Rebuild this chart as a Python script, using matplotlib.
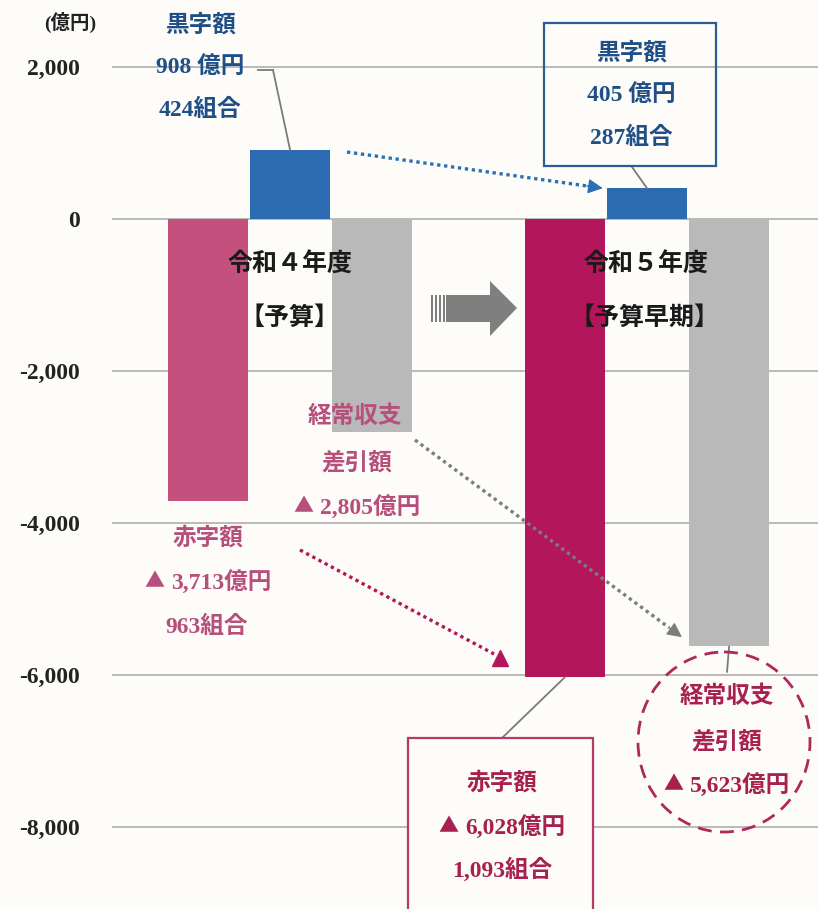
import numpy as np
import matplotlib.pyplot as plt
from matplotlib.patches import Rectangle, Ellipse, Polygon
from matplotlib.transforms import Affine2D

plt.rcParams['font.family'] = ['Liberation Serif', 'Noto Sans CJK JP']

# data (億円)
years = ['令和４年度', '令和５年度']
periods = ['【予算】', '【予算早期】']
deficit = [-3713, -6028]        # 赤字額
surplus = [908, 405]            # 黒字額
balance = [-2805, -5623]        # 経常収支差引額
deficit_unions = [963, 1093]
surplus_unions = [424, 287]
yticks = [2000, 0, -2000, -4000, -6000, -8000]

bg = '#fdfcf8'
pink = '#c4517d'
crimson = '#b3165a'
blue = '#2b6cb0'
grey = '#b9b9b9'
blue_txt = '#1f4f86'
pink_txt = '#b74f7c'
crim_txt = '#a8204f'

W, H = 818, 909
fig = plt.figure(figsize=(W / 100, H / 100), dpi=100, facecolor=bg)
ax = fig.add_axes([112 / W, 0, 1 - 112 / W, 1])
ax.set_facecolor(bg)
# pixel coords measured from the top-left corner
px = Affine2D().scale(1 / W, -1 / H).translate(0, 1) + fig.transFigure

x = np.arange(len(years))
w = 0.224
off = 0.23
ax.bar(x - off, deficit, w, color=[pink, crimson])
ax.bar(x, surplus, w, color=blue)
ax.bar(x + off, balance, w, color=grey)

ax.set_xlim(-0.499, 1.479)
ax.set_ylim(-9079, 2882)
ax.set_yticks(yticks)
ax.set_yticklabels([f'{v:,}' for v in yticks], fontsize=17,
                   fontweight='bold', color='#222222')
ax.tick_params(length=0, pad=23)
ax.set_xticks([])
ax.yaxis.grid(True, color='#b5b5b5', lw=1.3)
ax.set_axisbelow(True)
for s in ax.spines.values():
    s.set_visible(False)

renderer = fig.canvas.get_renderer()


def label(xp, yp, s, color, size=17):
    if not s.startswith('▲'):
        fig.text(xp, yp, s, transform=px, ha='center', va='center',
                 fontsize=size, fontweight='bold', color=color, zorder=5)
        return
    # bigger CJK triangle, then the rest of the text
    tri = fig.text(0, yp, '▲', transform=px, ha='left', va='center',
                   fontsize=size * 0.85, family='Noto Sans CJK JP',
                   color=color, zorder=5)
    rest = fig.text(0, yp, s[1:].strip(), transform=px, ha='left', va='center',
                    fontsize=size, fontweight='bold', color=color, zorder=5)
    gap = 7
    wt = tri.get_window_extent(renderer).width
    wr = rest.get_window_extent(renderer).width
    left = xp - (wt + gap + wr) / 2
    tri.set_x(left)
    rest.set_x(left + wt + gap)


def leader(xy, pt):
    ax.annotate('', xy=xy, xycoords='data', xytext=pt, textcoords=px,
                arrowprops=dict(arrowstyle='-', color='#7a7a7a', lw=1.3,
                                shrinkA=0, shrinkB=0), annotation_clip=False)


def dotted_arrow(xy, pt, color):
    end = px.inverted().transform(ax.transData.transform(xy))
    d = end - np.array(pt)
    u = d / np.hypot(*d)
    base = end - 16 * u
    fig.add_artist(plt.Line2D([pt[0], base[0]], [pt[1], base[1]], transform=px,
                              color=color, lw=2.4, linestyle=(0, (1, 1.1))))
    ax.annotate('', xy=xy, xycoords='data', xytext=tuple(base), textcoords=px,
                arrowprops=dict(arrowstyle='-|>,head_length=0.9,head_width=0.45',
                                color=color, lw=1, shrinkA=0, shrinkB=0))


label(70, 22, '(億円)', '#222222', 14)

# year labels
label(290, 265, years[0], '#1a1a1a', 18)
label(290, 318, periods[0], '#1a1a1a', 18)
label(646, 265, years[1], '#1a1a1a', 18)
label(645, 318, periods[1], '#1a1a1a', 18)

# 黒字額 (year 1)
label(200, 25, '黒字額', blue_txt)
label(200, 67, f'{surplus[0]} 億円', blue_txt)
label(200, 110, f'{surplus_unions[0]}組合', blue_txt)
fig.add_artist(plt.Line2D([258, 273], [70, 70], transform=px, color='#7a7a7a', lw=1.3))
leader((x[0], surplus[0]), (273, 70))

# 黒字額 (year 2) box
fig.add_artist(Rectangle((544, 23), 172, 143, transform=px, fill=False,
                         edgecolor='#2c5d92', lw=1.6))
label(631, 53, '黒字額', blue_txt)
label(631, 95, f'{surplus[1]} 億円', blue_txt)
label(631, 138, f'{surplus_unions[1]}組合', blue_txt)
leader((x[1], surplus[1]), (632, 167))

# 経常収支 (year 1)
label(355, 417, '経常収支', pink_txt)
label(357, 463, '差引額', pink_txt)
label(357, 507, f'▲ {-balance[0]:,}億円', pink_txt)

# 赤字額 (year 1)
label(208, 538, '赤字額', pink_txt)
label(208, 582, f'▲ {-deficit[0]:,}億円', pink_txt)
label(207, 627, f'{deficit_unions[0]}組合', pink_txt)

# 赤字額 (year 2) box
fig.add_artist(Rectangle((408, 738), 185, 200, transform=px, facecolor=bg,
                         edgecolor='#b53a6b', lw=1.6))
label(502, 783, '赤字額', crim_txt)
label(502, 827, f'▲ {-deficit[1]:,}億円', crim_txt)
label(502, 870, f'{deficit_unions[1]:,}組合', crim_txt)
leader((x[1] - off, deficit[1]), (502, 738))

# 経常収支 (year 2) dashed circle
fig.add_artist(Ellipse((724, 742), 172, 180, transform=px, fill=False,
                       edgecolor='#b0275e', lw=2, linestyle=(0, (5, 3))))
label(727, 697, '経常収支', crim_txt)
label(727, 742, '差引額', crim_txt)
label(727, 785, f'▲ {-balance[1]:,}億円', crim_txt)
leader((x[1] + off, balance[1]), (727, 672))

# dotted trend arrows
dotted_arrow((x[1] - w / 2 - 0.012, surplus[1]), (347, 152), '#2a6fb5')
dotted_arrow((x[1] + off - w / 2 - 0.02, balance[1] + 120), (415, 440), '#7d7d7d')
fig.add_artist(plt.Line2D([300, 494], [550, 654], transform=px, color=crimson,
                          lw=2.4, linestyle=(0, (1, 1.1))))
fig.add_artist(plt.Line2D([500], [658], transform=px, color=crimson,
                          marker='^', markersize=11, lw=0))

# grey block arrow
fig.add_artist(Polygon([(446, 295), (490, 295), (490, 281), (517, 308),
                        (490, 336), (490, 322), (446, 322)],
                       closed=True, transform=px, color='#7f7f7f', lw=0))
for sx in [431, 435, 439, 443]:
    fig.add_artist(Rectangle((sx, 295), 2, 27, transform=px, color='#7f7f7f', lw=0))

plt.savefig('out.png', dpi=100, facecolor=bg)
